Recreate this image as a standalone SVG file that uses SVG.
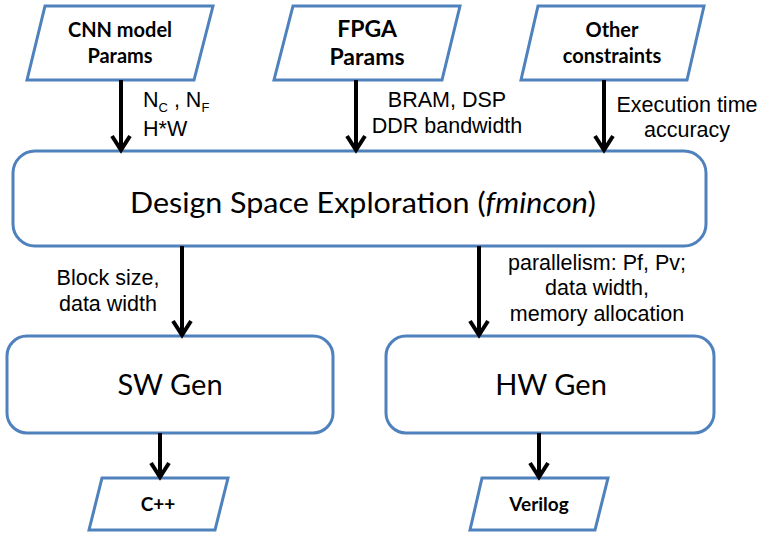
<svg xmlns="http://www.w3.org/2000/svg" width="759" height="533" viewBox="0 0 759 533">
  <style>
    .shape { fill: #ffffff; stroke: #4f81bd; stroke-width: 3; }
    .title { font-family: Lato, "Open Sans", sans-serif; font-weight: bold; fill: #000; text-anchor: middle; }
    .big { font-family: Lato, "Open Sans", sans-serif; font-size: 29px; fill: #000; text-anchor: middle; }
    .lbl { font-family: "Liberation Sans", Arial, sans-serif; font-size: 21.5px; fill: #000; }
    .wire { stroke: #000; stroke-width: 4; fill: none; marker-end: url(#head); }
  </style>
  <defs>
    <!-- open V arrowhead, tip at the end of the line -->
    <marker id="head" viewBox="0 0 22 24" refX="16" refY="12" markerWidth="22" markerHeight="24" markerUnits="userSpaceOnUse" orient="auto">
      <polyline points="3,3 17,12 3,21" fill="none" stroke="#000" stroke-width="4" stroke-linejoin="miter"/>
    </marker>
  </defs>

  <!-- input parallelograms -->
  <g id="cnn-params">
    <polygon class="shape" points="45,6 213,6 194,80 27,80"/>
    <text class="title" font-size="20" x="120" y="37">CNN model</text>
    <text class="title" font-size="20" x="120" y="63">Params</text>
  </g>
  <g id="fpga-params">
    <polygon class="shape" points="293,6 460,6 442,80 274,80"/>
    <text class="title" font-size="23" x="367" y="37">FPGA</text>
    <text class="title" font-size="23" x="367" y="65">Params</text>
  </g>
  <g id="other-constraints">
    <polygon class="shape" points="538,6 704,6 687,80 521,80"/>
    <text class="title" font-size="20" x="612" y="37">Other</text>
    <text class="title" font-size="20" x="612" y="63">constraints</text>
  </g>

  <!-- exploration stage -->
  <g id="dse">
    <rect class="shape" x="13" y="151" width="693" height="95" rx="22" ry="22"/>
    <text class="big" x="363" y="213" textLength="466" lengthAdjust="spacingAndGlyphs">Design Space Exploration (<tspan font-style="italic">fmincon</tspan>)</text>
  </g>

  <!-- generators -->
  <g id="sw-gen">
    <rect class="shape" x="7" y="336" width="326" height="97" rx="20" ry="20"/>
    <text class="big" x="170" y="395">SW Gen</text>
  </g>
  <g id="hw-gen">
    <rect class="shape" x="386" y="336" width="328" height="97" rx="20" ry="20"/>
    <text class="big" x="551" y="395">HW Gen</text>
  </g>

  <!-- outputs -->
  <g id="cpp-out">
    <polygon class="shape" points="102,478 228,478 215,530 89,530"/>
    <text class="title" font-size="19" x="158" y="511">C++</text>
  </g>
  <g id="verilog-out">
    <polygon class="shape" points="482,478 608,478 595,530 470,530"/>
    <text class="title" font-size="19" x="539" y="511">Verilog</text>
  </g>

  <!-- connectors -->
  <g id="connectors">
    <line class="wire" x1="121" y1="80" x2="121" y2="149"/>
    <line class="wire" x1="356" y1="80" x2="356" y2="149"/>
    <line class="wire" x1="604" y1="80" x2="604" y2="149"/>
    <line class="wire" x1="182" y1="246" x2="182" y2="334"/>
    <line class="wire" x1="479" y1="246" x2="479" y2="334"/>
    <line class="wire" x1="160" y1="433" x2="160" y2="476"/>
    <line class="wire" x1="539" y1="433" x2="539" y2="476"/>
  </g>

  <!-- connector labels -->
  <g id="labels">
    <text class="lbl" x="143" y="107">N<tspan font-size="13" dy="5">C</tspan><tspan dy="-5"> , N</tspan><tspan font-size="13" dy="5">F</tspan></text>
    <text class="lbl" x="143" y="136">H*W</text>
    <text class="lbl" x="447" y="107" text-anchor="middle">BRAM, DSP</text>
    <text class="lbl" x="447" y="133" text-anchor="middle">DDR bandwidth</text>
    <text class="lbl" x="687" y="112" text-anchor="middle">Execution time</text>
    <text class="lbl" x="687" y="137" text-anchor="middle">accuracy</text>
    <text class="lbl" x="108" y="285" text-anchor="middle">Block size,</text>
    <text class="lbl" x="108" y="311" text-anchor="middle">data width</text>
    <text class="lbl" x="597" y="270" text-anchor="middle">parallelism: Pf, Pv;</text>
    <text class="lbl" x="597" y="295" text-anchor="middle">data width,</text>
    <text class="lbl" x="597" y="321" text-anchor="middle">memory allocation</text>
  </g>
</svg>
